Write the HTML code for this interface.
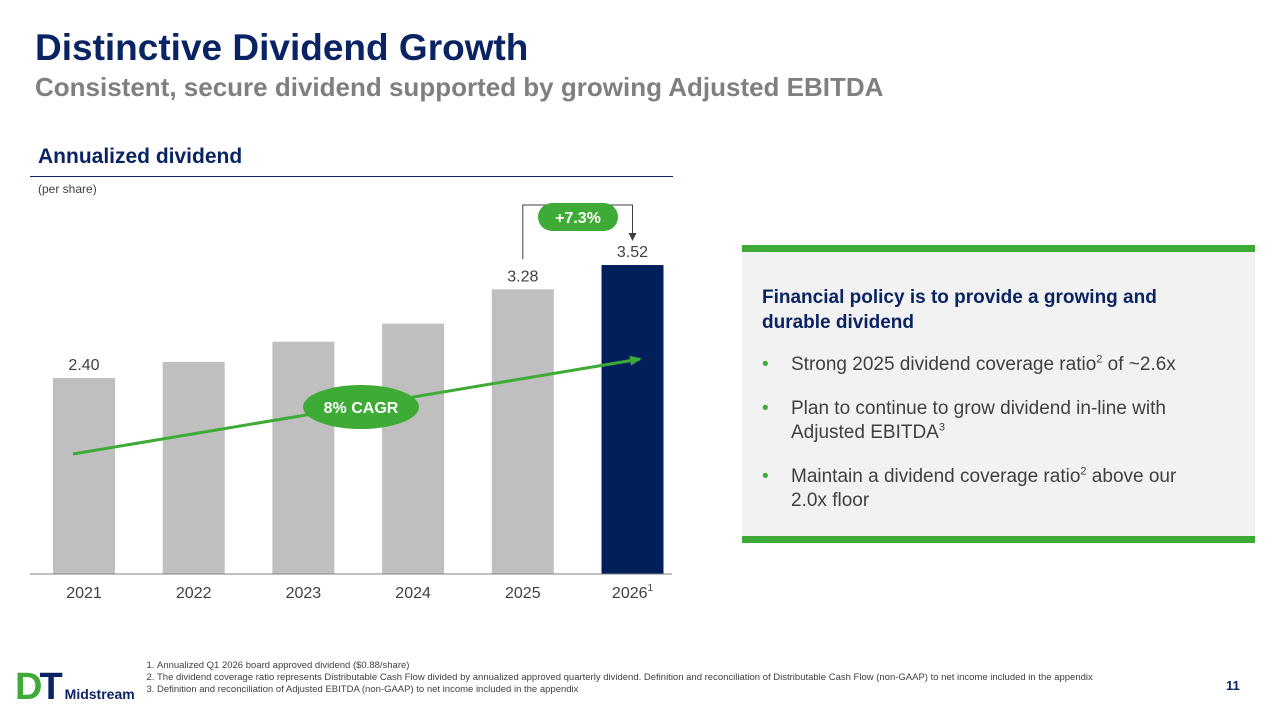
<!DOCTYPE html>
<html><head><meta charset="utf-8"><style>
body{margin:0;width:1280px;height:720px;background:#fff;font-family:"Liberation Sans","DejaVu Sans",sans-serif;position:relative;overflow:hidden}
.a{position:absolute}
</style></head><body>
<div class="a" style="left:35px;top:27px;font-size:37px;font-weight:bold;color:#0a2463">Distinctive Dividend Growth</div>
<div class="a" style="left:35px;top:72px;font-size:26px;font-weight:bold;color:#7f7f7f">Consistent, secure dividend supported by growing Adjusted EBITDA</div>
<div class="a" style="left:38px;top:145px;font-size:21px;font-weight:bold;color:#0a2463">Annualized dividend</div>
<div class="a" style="left:30px;top:176px;width:643px;height:1px;background:#0a2463"></div>
<div class="a" style="left:38px;top:182px;font-size:12px;color:#404040">(per share)</div>
<svg class="a" style="left:0;top:0" width="1280" height="720" id="chart">
<defs><marker id="ag" markerUnits="userSpaceOnUse" markerWidth="12" markerHeight="12" refX="10" refY="6" orient="auto"><path d="M0,1 L12,6 L0,11z" fill="#3dab36"/></marker>
<marker id="ak" markerUnits="userSpaceOnUse" markerWidth="8" markerHeight="8" refX="6" refY="4" orient="auto"><path d="M0,0 L8,4 L0,8z" fill="#404040"/></marker></defs>
</svg>
<div class="a" style="left:742px;top:245px;width:513px;height:298px;background:#f2f2f2;border-top:7px solid #3dab36;border-bottom:7px solid #3dab36;box-sizing:border-box">
<div style="position:absolute;left:20px;top:33px;width:450px;font-size:19px;font-weight:bold;color:#0a2463;line-height:25px">Financial policy is to provide a growing and durable dividend</div>
<ul style="position:absolute;left:20px;top:101px;margin:0;padding:0;list-style:none;font-size:19px;color:#404040;line-height:24px;width:450px">
<li style="padding-left:29px;position:relative;margin-bottom:20px"><span style="position:absolute;left:0;color:#3dab36">•</span>Strong 2025 dividend coverage ratio<sup style="font-size:11px;line-height:0">2</sup> of ~2.6x</li>
<li style="padding-left:29px;position:relative;margin-bottom:20px"><span style="position:absolute;left:0;color:#3dab36">•</span>Plan to continue to grow dividend in-line with Adjusted EBITDA<sup style="font-size:11px;line-height:0">3</sup></li>
<li style="padding-left:29px;position:relative"><span style="position:absolute;left:0;color:#3dab36">•</span>Maintain a dividend coverage ratio<sup style="font-size:11px;line-height:0">2</sup> above our 2.0x floor</li>
</ul></div>
<div class="a" style="left:15px;top:666px;font-weight:bold;white-space:nowrap">
<span style="font-size:38px;color:#3dab36;letter-spacing:-3px">D</span><span style="font-size:38px;color:#0a2463">T</span><span style="font-size:14px;color:#0a2463;margin-left:2px">Midstream</span></div>
<ol class="a" style="left:140px;top:660px;margin:0;padding-left:17px;font-size:9.5px;color:#404040;width:1015px;line-height:12px">
<li>Annualized Q1 2026 board approved dividend ($0.88/share)</li>
<li>The dividend coverage ratio represents Distributable Cash Flow divided by annualized approved quarterly dividend. Definition and reconciliation of Distributable Cash Flow (non-GAAP) to net income included in the appendix</li>
<li>Definition and reconciliation of Adjusted EBITDA (non-GAAP) to net income included in the appendix</li></ol>
<div class="a" style="left:1226px;top:678px;font-size:13px;font-weight:bold;color:#0a2463">11</div>
<script>
const categories=["2021","2022","2023","2024","2025","2026"];
const dividends=[2.40,2.56,2.76,2.94,3.28,3.52];
const shownLabels=["2.40","","","","3.28","3.52"];
const svg=document.getElementById('chart');
const NS='http://www.w3.org/2000/svg';
const base=574,x0=84,step=109.7,bw=62;
const yv=v=>base-100.9*(v-0.458);
const xc=i=>x0+i*step;
function mk(t,a){const e=document.createElementNS(NS,t);for(const k in a)e.setAttribute(k,a[k]);svg.appendChild(e);return e;}
categories.forEach((c,i)=>{
 const r=mk('rect',{x:xc(i)-bw/2,y:yv(dividends[i]),width:bw,height:base-yv(dividends[i]),fill:i==5?'#001f5b':'#bfbfbf'});
 
 
 if(shownLabels[i]){const t=mk('text',{x:xc(i),y:yv(dividends[i])-8,'text-anchor':'middle','font-size':16,fill:'#404040'});t.textContent=shownLabels[i];
 
 }
 const l=mk('text',{x:xc(i),y:598,'text-anchor':'middle','font-size':16,fill:'#404040'});l.textContent=c;
 
 
 if(i==5){const s=mk('tspan',{'font-size':10,dy:-7});s.textContent='1';l.appendChild(s);}
});
const ax=mk('line',{x1:30,x2:672,y1:base,y2:base,stroke:'#7f7f7f'});


const ar=mk('line',{x1:73,y1:454,x2:640,y2:359,stroke:'#3dab36','stroke-width':3,'marker-end':'url(#ag)'});


const el=mk('ellipse',{cx:361,cy:407,rx:58,ry:22,fill:'#3dab36'});


const et=mk('text',{x:361,y:413,'text-anchor':'middle','font-size':16,'font-weight':'bold',fill:'#fff'});et.textContent='8% CAGR';


const br=mk('path',{d:`M${xc(4)},${yv(dividends[4])-30} V205 H${xc(5)} V${yv(dividends[5])-26}`,fill:'none',stroke:'#404040','stroke-width':1,'marker-end':'url(#ak)'});


const pr=mk('rect',{x:538,y:203,width:80,height:28,rx:14,fill:'#3dab36'});


const pt=mk('text',{x:578,y:223,'text-anchor':'middle','font-size':16,'font-weight':'bold',fill:'#fff'});pt.textContent='+7.3%';


</script>
</body></html>
